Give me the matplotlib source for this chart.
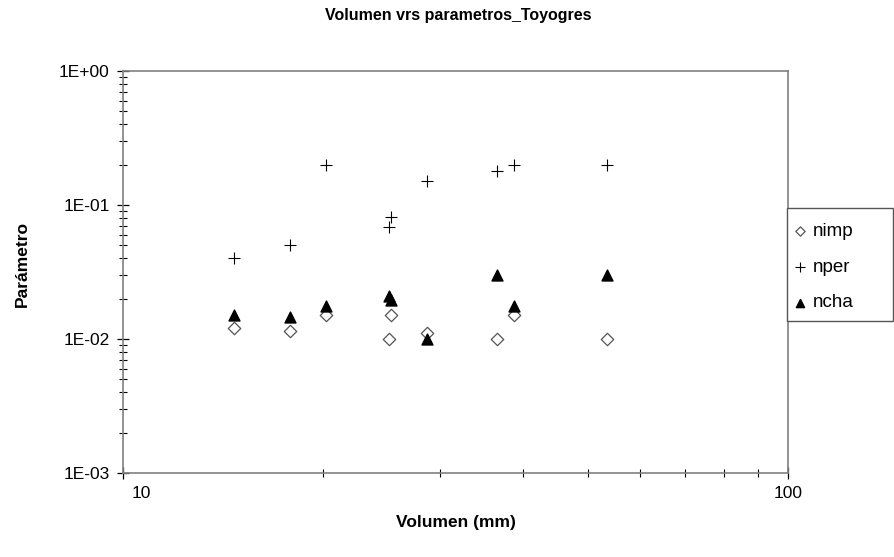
import numpy as np
import matplotlib.pyplot as plt
from matplotlib.patches import Rectangle
from matplotlib.transforms import ScaledTranslation
from matplotlib.ticker import LogLocator, FixedLocator, FixedFormatter, NullFormatter

plt.rcParams['font.family'] = ['Liberation Sans', 'DejaVu Sans']

# values
volumen = [14.7, 17.8, 20.2, 25.1, 25.3, 28.7, 36.5, 38.7, 53.4]
nimp = [0.012, 0.0115, 0.015, 0.010, 0.015, 0.011, 0.010, 0.015, 0.010]
nper = [0.040, 0.050, 0.200, 0.068, 0.082, 0.150, 0.180, 0.200, 0.200]
ncha = [0.015, 0.0145, 0.0175, 0.021, 0.0195, 0.010, 0.030, 0.0175, 0.030]

y_ticks = [1e-3, 1e-2, 1e-1, 1]
y_labels = ['1E-03', '1E-02', '1E-01', '1E+00']
x_ticks = [10, 100]
x_labels = ['10', '100']

fig = plt.figure(figsize=(8.95, 5.57), dpi=100)
ax = fig.add_axes([123 / 895, 1 - 473 / 557, 665 / 895, 402 / 557])

ax.scatter(volumen, nimp, marker='D', s=40, facecolors='white', edgecolors='#555555',
           linewidths=0.9, label='nimp', zorder=3)
ax.scatter(volumen, nper, marker='+', s=85, c='black', linewidths=0.8, label='nper', zorder=3)
ax.scatter(volumen, ncha, marker='^', s=62, c='black', label='ncha', zorder=3)

ax.set_xscale('log')
ax.set_yscale('log')
ax.set_xlim(10, 100)
ax.set_ylim(1e-3, 1)

ax.xaxis.set_major_locator(FixedLocator(x_ticks))
ax.xaxis.set_major_formatter(FixedFormatter(x_labels))
ax.xaxis.set_minor_locator(LogLocator(base=10, subs=np.arange(2, 10)))
ax.xaxis.set_minor_formatter(NullFormatter())
ax.yaxis.set_major_locator(FixedLocator(y_ticks))
ax.yaxis.set_major_formatter(FixedFormatter(y_labels))
ax.yaxis.set_minor_locator(LogLocator(base=10, subs=np.arange(2, 10)))
ax.yaxis.set_minor_formatter(NullFormatter())

ax.tick_params(which='major', direction='inout', length=9, width=0.9, labelsize=12.5)
ax.tick_params(which='minor', direction='inout', length=6, width=0.8)
ax.tick_params(axis='x', which='major', pad=5)
ax.tick_params(axis='y', which='major', pad=5)
for s in ax.spines.values():
    s.set_color('#808080')
    s.set_linewidth(1.2)

# the "10" label sits a bit right of the axis corner in the reference
fig.canvas.draw()
lbl10 = ax.get_xticklabels()[0]
lbl10.set_transform(lbl10.get_transform() + ScaledTranslation(0.18, 0, fig.dpi_scale_trans))

ax.set_xlabel('Volumen (mm)', fontsize=12.5, fontweight='bold', labelpad=10)
ax.set_ylabel('Parámetro', fontsize=12.5, fontweight='bold')
ax.yaxis.set_label_coords(-0.14, 0.52)
fig.suptitle('Volumen vrs parametros_Toyogres', fontsize=11.5, fontweight='bold',
             x=0.512, y=0.985)

# legend box drawn separately, Excel style with wide right margin
fig.patches.append(Rectangle((787 / 895, 1 - 321 / 557), 106 / 895, 113 / 557,
                             transform=fig.transFigure, facecolor='white',
                             edgecolor='#555555', linewidth=1.0, zorder=1))
leg = fig.legend(loc='center left', bbox_to_anchor=(778 / 895, 1 - 267 / 557),
                 frameon=False, fontsize=13.5, handlelength=0.7,
                 handletextpad=0.35, labelspacing=1.0, borderpad=0.3,
                 scatterpoints=1, markerscale=0.75)

fig.savefig('out.png', dpi=100)
